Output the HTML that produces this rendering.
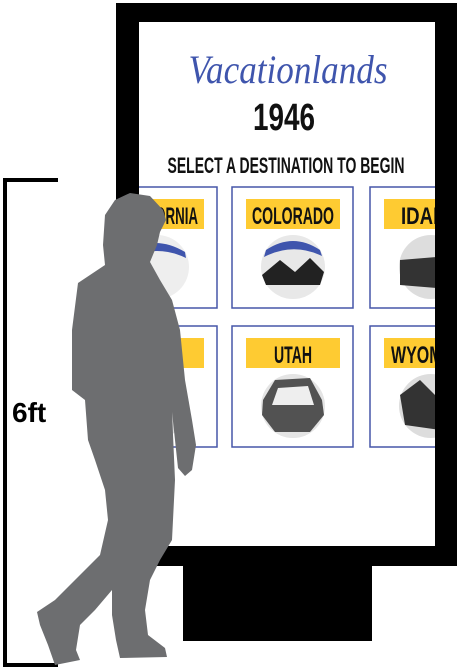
<!DOCTYPE html>
<html><head><meta charset="utf-8"><style>html,body{margin:0;padding:0;background:#fff}svg{display:block}</style></head>
<body>
<svg width="458" height="670" viewBox="0 0 458 670" xmlns="http://www.w3.org/2000/svg">
<defs><clipPath id="scr"><rect x="139" y="22" width="296" height="524"/></clipPath></defs>
<rect x="116" y="3" width="341" height="563" fill="#000"/>
<rect x="183" y="566" width="189" height="75" fill="#000"/>
<rect x="139" y="22" width="296" height="524" fill="#fff"/>
<text x="288" y="83" text-anchor="middle" font-family="Liberation Serif, serif" font-style="italic" font-size="40" fill="#3f55ad" textLength="199" lengthAdjust="spacingAndGlyphs">Vacationlands</text>
<text x="284" y="130" text-anchor="middle" font-family="Liberation Sans, sans-serif" font-weight="bold" font-size="38" fill="#111" textLength="62" lengthAdjust="spacingAndGlyphs">1946</text>
<text x="286" y="173" text-anchor="middle" font-family="Liberation Sans, sans-serif" font-weight="bold" font-size="22" fill="#111" textLength="237" lengthAdjust="spacingAndGlyphs">SELECT A DESTINATION TO BEGIN</text>
<g clip-path="url(#scr)">
  <g>
    <rect x="96" y="187" width="121" height="121" fill="#fff" stroke="#4656a8" stroke-width="1.5"/>
    <rect x="110" y="199" width="94" height="30" fill="#fecb32"/>
    <text x="157" y="224" text-anchor="middle" font-family="Liberation Sans, sans-serif" font-weight="bold" font-size="24" fill="#111" textLength="82" lengthAdjust="spacingAndGlyphs">CALIFORNIA</text>
    <circle cx="157" cy="267" r="32" fill="#eee"/><path d="M130,250 Q157,235 185,252 L186,258 Q157,244 128,258Z" fill="#3f55ad"/>
  </g>
  <g>
    <rect x="232" y="187" width="121" height="121" fill="#fff" stroke="#4656a8" stroke-width="1.5"/>
    <rect x="246" y="199" width="94" height="30" fill="#fecb32"/>
    <text x="293" y="224" text-anchor="middle" font-family="Liberation Sans, sans-serif" font-weight="bold" font-size="24" fill="#111" textLength="82" lengthAdjust="spacingAndGlyphs">COLORADO</text>
    <circle cx="293" cy="267" r="32" fill="#e8e8e8"/><path d="M266,250 Q293,232 320,250 L322,256 Q293,242 264,257Z" fill="#3f55ad"/><path d="M262,275 L280,260 L295,272 L310,258 L324,272 L320,285 L266,285Z" fill="#222"/>
  </g>
  <g>
    <rect x="370" y="187" width="121" height="121" fill="#fff" stroke="#4656a8" stroke-width="1.5"/>
    <rect x="384" y="199" width="94" height="30" fill="#fecb32"/>
    <text x="431" y="224" text-anchor="middle" font-family="Liberation Sans, sans-serif" font-weight="bold" font-size="24" fill="#111" textLength="60" lengthAdjust="spacingAndGlyphs">IDAHO</text>
    <circle cx="431" cy="267" r="32" fill="#ddd"/><path d="M400,260 L460,255 L460,290 L400,285Z" fill="#333"/>
  </g>
  <g>
    <rect x="96" y="326" width="121" height="121" fill="#fff" stroke="#4656a8" stroke-width="1.5"/>
    <rect x="110" y="338" width="94" height="30" fill="#fecb32"/>
    <circle cx="157" cy="406" r="32" fill="#ddd"/>
  </g>
  <g>
    <rect x="232" y="326" width="121" height="121" fill="#fff" stroke="#4656a8" stroke-width="1.5"/>
    <rect x="246" y="338" width="94" height="30" fill="#fecb32"/>
    <text x="293" y="363" text-anchor="middle" font-family="Liberation Sans, sans-serif" font-weight="bold" font-size="24" fill="#111" textLength="38" lengthAdjust="spacingAndGlyphs">UTAH</text>
    <circle cx="293" cy="406" r="32" fill="#e4e4e4"/><path d="M263,400 L275,380 L310,378 L322,400 L324,415 L310,432 L275,432 L262,415Z" fill="#222" opacity="0.75"/><path d="M278,388 L308,386 L314,405 L272,405Z" fill="#eee"/>
  </g>
  <g>
    <rect x="370" y="326" width="121" height="121" fill="#fff" stroke="#4656a8" stroke-width="1.5"/>
    <rect x="384" y="338" width="94" height="30" fill="#fecb32"/>
    <text x="431" y="363" text-anchor="middle" font-family="Liberation Sans, sans-serif" font-weight="bold" font-size="24" fill="#111" textLength="80" lengthAdjust="spacingAndGlyphs">WYOMING</text>
    <circle cx="431" cy="406" r="32" fill="#ddd"/><path d="M400,395 L420,380 L440,400 L440,430 L405,425Z" fill="#333"/>
  </g>
</g>
<path d="M58,180 L5,180 L5,665 L58,665" fill="none" stroke="#000" stroke-width="4"/>
<text x="12" y="422" font-family="Liberation Sans, sans-serif" font-weight="bold" font-size="28" fill="#000">6ft</text>
<path fill="#6d6e70" d="M130,193 L150,196 L163,210 L166,220 L160,232 L157,245 L150,262 L160,280 L172,300 L180,330 L185,380 L192,420 L196,445 L192,470 L185,476 L178,468 L175,440 L172,412 L175,480 L172,540 L160,560 L150,580 L145,610 L148,635 L165,648 L167,657 L120,658 L116,640 L112,615 L112,590 L95,610 L80,625 L76,650 L80,660 L55,665 L48,645 L40,625 L37,612 L55,600 L80,575 L100,555 L108,520 L105,490 L95,460 L88,440 L85,400 L72,390 L72,330 L78,283 L90,275 L105,265 L103,245 L105,215 L115,200 Z"/>
</svg>
</body></html>
